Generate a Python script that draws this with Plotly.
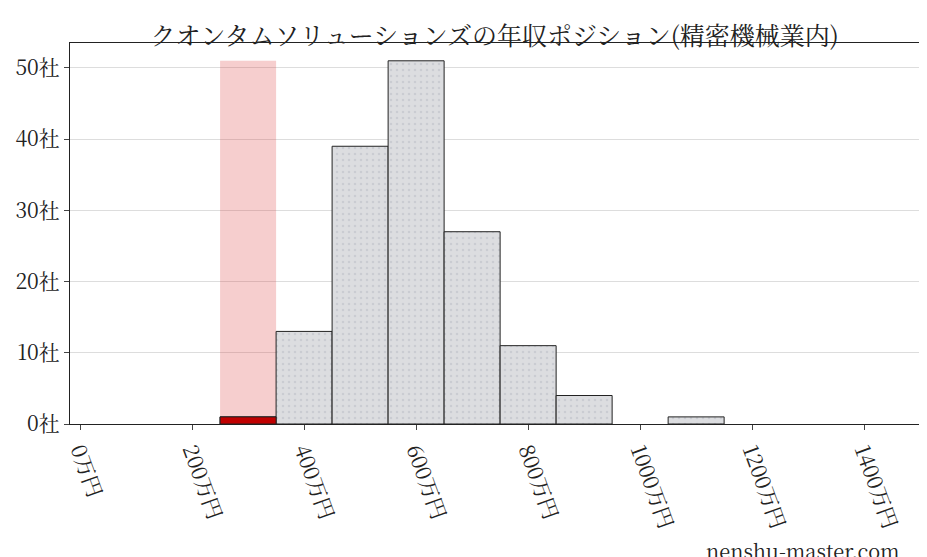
import plotly.graph_objects as go

bin_centers = [300, 400, 500, 600, 700, 800, 900, 1000, 1100]
counts = [1, 13, 39, 51, 27, 11, 4, 0, 1]
highlight_center = 300
highlight_height = 51
highlight_count = 1
xticks = [0, 200, 400, 600, 800, 1000, 1200, 1400]
xlabels = [f"{v}万円" for v in xticks]
yticks = [0, 10, 20, 30, 40, 50]
ylabels = [f"{v}社" for v in yticks]

font = "Noto Serif CJK JP, Noto Sans CJK JP, serif"
fig = go.Figure()
fig.add_trace(go.Bar(x=[highlight_center], y=[highlight_height], width=100,
                     marker=dict(color="rgba(220,60,60,0.25)", line=dict(width=0))))
fig.add_trace(go.Bar(x=bin_centers, y=counts, width=100,
                     marker=dict(color="#dcdde0",
                                 line=dict(color="#222", width=[1 if c > 0 else 0 for c in counts]),
                                 pattern=dict(shape=".", fgcolor="#b8bcc4", size=6, solidity=0.15))))
fig.add_trace(go.Bar(x=[highlight_center], y=[highlight_count], width=100,
                     marker=dict(color="#c00000", line=dict(color="#222", width=1))))
fig.update_layout(
    barmode="overlay", showlegend=False, width=927, height=557,
    plot_bgcolor="white", paper_bgcolor="white",
    margin=dict(l=62, r=7, t=35, b=141, autoexpand=False),
    title=dict(text="クオンタムソリューションズの年収ポジション(精密機械業内)", x=0.525, y=0.965,
               xanchor="center", font=dict(family=font, size=25, color="#222")),
    font=dict(family=font, color="#222"),
    annotations=[dict(text="nenshu-master.com", xref="paper", yref="paper", x=0.97, y=-0.29,
                      xanchor="right", yanchor="top", showarrow=False,
                      font=dict(family=font, size=20, color="#222"))],
)
fig.update_xaxes(range=[-18, 1514], tickvals=xticks, ticktext=xlabels, tickangle=70,
                 tickfont=dict(size=21), showline=True, linecolor="#222", mirror=True,
                 showgrid=False, ticks="outside", zeroline=False, automargin=False)
fig.update_yaxes(range=[0, 53.5], tickvals=yticks, ticktext=ylabels, tickfont=dict(size=21),
                 showline=True, linecolor="#222", mirror=True, gridcolor="#ddd",
                 ticks="outside", zeroline=False, automargin=False)
fig.write_html("out.html")
